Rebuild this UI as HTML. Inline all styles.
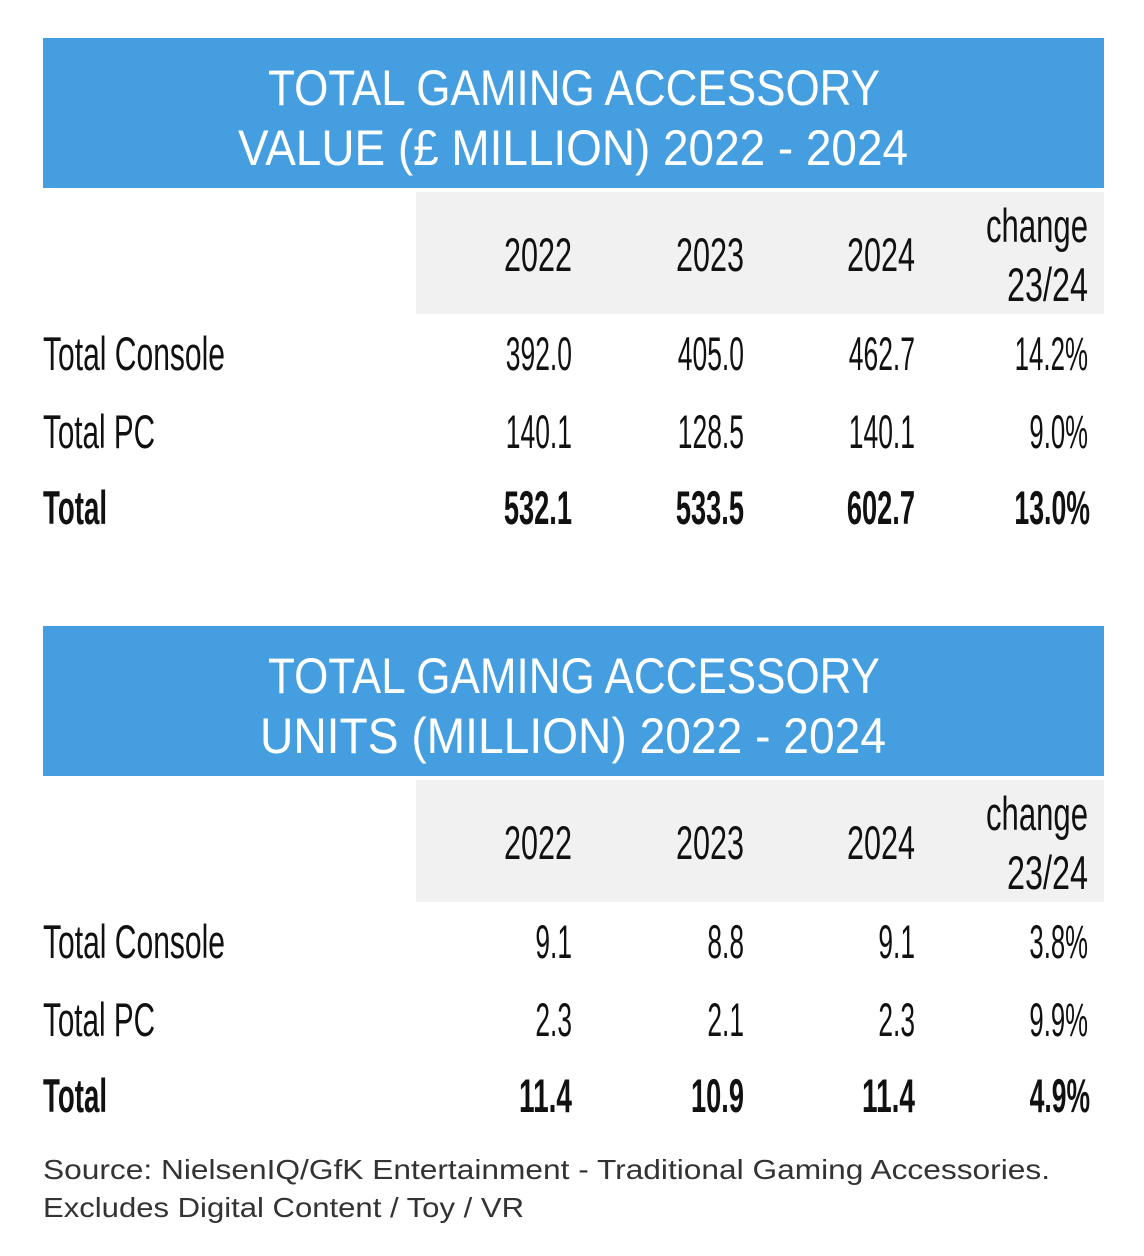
<!DOCTYPE html>
<html><head><meta charset="utf-8"><style>
html,body{margin:0;padding:0;background:#fff;width:1144px;height:1256px;overflow:hidden}
svg{display:block}
text{font-family:"Liberation Sans",sans-serif}
</style></head><body>
<svg id="s" width="1144" height="1256" viewBox="0 0 1144 1256"></svg>
<script>
const rowLabels=["Total Console","Total PC","Total"];
const colLabels=["2022","2023","2024"];
const valueData=[["392.0","405.0","462.7","14.2%"],["140.1","128.5","140.1","9.0%"],["532.1","533.5","602.7","13.0%"]];
const unitData=[["9.1","8.8","9.1","3.8%"],["2.3","2.1","2.3","9.9%"],["11.4","10.9","11.4","4.9%"]];
const titles=[["TOTAL GAMING ACCESSORY","VALUE (£ MILLION) 2022 - 2024"],["TOTAL GAMING ACCESSORY","UNITS (MILLION) 2022 - 2024"]];

const NS="http://www.w3.org/2000/svg";
const svg=document.getElementById('s');
const colRight=[572,744,915,1088];
const charW=14.8; // approx condensed digit width
function txt(parent,s,x,y,o){
  const t=document.createElementNS(NS,'text');
  t.textContent=s;
  t.setAttribute('x',x);t.setAttribute('y',y);
  t.setAttribute('font-size',o.size);
  t.setAttribute('fill',o.fill||'#111');
  if(o.anchor)t.setAttribute('text-anchor',o.anchor);
  if(o.bold)t.setAttribute('font-weight','bold');
  if(o.len){t.setAttribute('textLength',o.len);t.setAttribute('lengthAdjust','spacingAndGlyphs');}
  parent.appendChild(t);return t;
}
function wEst(s,bold){let w=0;for(const c of s){w+= c==='.'?7: c==='%'?22: c==='/'?10:14.8;}return bold?w*1.03:w;}
function rowW(s){const m={"Total Console":182,"Total PC":112,"Total":64};return m[s];}

function table(off,data,title,nameP){
  const g=document.createElementNS(NS,'g');
  
  
  svg.appendChild(g);
  const hdr=document.createElementNS(NS,'rect');
  hdr.setAttribute('x',43);hdr.setAttribute('y',38+off);hdr.setAttribute('width',1061);hdr.setAttribute('height',150);hdr.setAttribute('fill','#459edf');
  
  
  g.appendChild(hdr);
  const tw=[[612],[title[1].startsWith('VALUE')?670:626]];
  let t1=txt(g,title[0],574,105+off,{size:50,fill:'#fff',anchor:'middle',len:612});
  
  
  let t2=txt(g,title[1],573,165+off,{size:50,fill:'#fff',anchor:'middle',len:tw[1][0]});
  
  
  const gr=document.createElementNS(NS,'rect');
  gr.setAttribute('x',416);gr.setAttribute('y',192+off);gr.setAttribute('width',688);gr.setAttribute('height',122);gr.setAttribute('fill','#f1f1f1');
  
  
  g.appendChild(gr);
  colLabels.forEach((c,i)=>{
    const t=txt(g,c,colRight[i],271+off,{size:47,anchor:'end',len:68});
    
    
  });
  let ch=txt(g,'change',1088,242+off,{size:47,anchor:'end',len:102});
  
  
  let ch2=txt(g,'23/24',1088,301+off,{size:47,anchor:'end',len:81});
  
  
  const ys=[370,448,524];
  rowLabels.forEach((r,ri)=>{
    const bold=ri===2;
    const rl=txt(g,r,43,ys[ri]+off,{size:47,bold,len:rowW(r)});
    
    
    data[ri].forEach((v,ci)=>{
      const x=colRight[ci]+(bold&&ci===3?2:0);
      const t=txt(g,v,x,ys[ri]+off,{size:47,bold,anchor:'end',len:wEst(v,bold)*(ci===3?1.0:1)});
      
      
    });
  });
}
table(0,valueData,titles[0],'value');
table(588,unitData,titles[1],'units');
let s1=txt(svg,'Source: NielsenIQ/GfK Entertainment - Traditional Gaming Accessories.',43,1179,{size:28,fill:'#333',len:1007});


let s2=txt(svg,'Excludes Digital Content / Toy / VR',43,1217,{size:28,fill:'#333',len:481});


</script>
</body></html>
